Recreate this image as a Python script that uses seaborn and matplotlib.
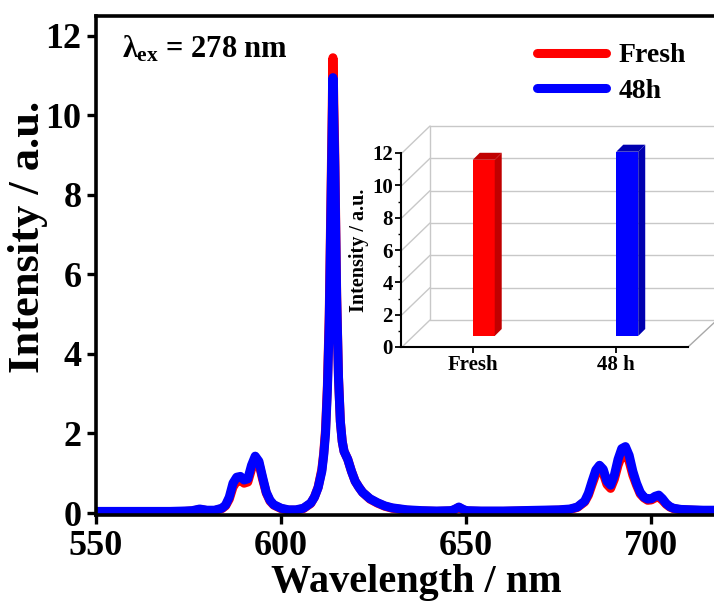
import numpy as np
import pandas as pd
import matplotlib
matplotlib.use("Agg")
import matplotlib.pyplot as plt
import seaborn as sns
from matplotlib.transforms import ScaledTranslation, IdentityTransform
from matplotlib.lines import Line2D
from matplotlib.patches import Polygon

# ---------------- data ----------------
wavelength = [550, 555, 560, 565, 570, 574, 576, 578, 580, 582, 584, 585, 586, 587, 588, 589, 590,
              591, 592, 593, 594, 595, 596, 597, 598, 600, 602, 604, 606, 608, 609, 610, 611, 611.5,
              612, 612.5, 613, 613.5, 614, 614.5, 615, 615.5, 616, 616.5, 617, 618, 619, 620, 621,
              622, 624, 626, 628, 630, 634, 638, 642, 646, 647, 648, 649, 650, 654, 660, 665, 670,
              675, 678, 680, 682, 683, 684, 685, 686, 687, 688, 689, 690, 691, 692, 693, 694, 695,
              696, 697, 698, 699, 700, 701, 702, 703, 704, 705, 706, 708, 711, 714, 718]
fresh = [0.03, 0.03, 0.03, 0.03, 0.03, 0.04, 0.05, 0.09, 0.06, 0.06, 0.11, 0.18, 0.35, 0.65, 0.80, 0.82, 0.75,
         0.78, 1.10, 1.35, 1.25, 0.85, 0.50, 0.30, 0.20, 0.11, 0.07, 0.07, 0.11, 0.24, 0.40, 0.65, 1.10, 1.50,
         2.10, 3.20, 5.00, 8.20, 11.45, 9.00, 5.50, 3.40, 2.30, 1.80, 1.55, 1.35, 1.05, 0.80, 0.65,
         0.52, 0.35, 0.25, 0.17, 0.12, 0.07, 0.05, 0.04, 0.05, 0.09, 0.14, 0.09, 0.05, 0.04, 0.04, 0.05, 0.06,
         0.07, 0.09, 0.14, 0.28, 0.45, 0.72, 0.98, 1.10, 1.00, 0.72, 0.62, 0.85, 1.20, 1.45, 1.50, 1.30, 0.95,
         0.70, 0.48, 0.38, 0.32, 0.33, 0.38, 0.40, 0.32, 0.22, 0.15, 0.11, 0.08, 0.07, 0.06, 0.06]
h48 = [0.04, 0.04, 0.04, 0.04, 0.04, 0.05, 0.06, 0.10, 0.07, 0.07, 0.12, 0.20, 0.40, 0.75, 0.90, 0.92, 0.83,
       0.86, 1.20, 1.43, 1.30, 0.90, 0.52, 0.32, 0.21, 0.12, 0.08, 0.08, 0.12, 0.25, 0.40, 0.64, 1.05, 1.45,
       2.00, 3.10, 4.80, 7.90, 10.95, 8.70, 5.40, 3.40, 2.30, 1.80, 1.55, 1.35, 1.05, 0.80, 0.65,
       0.52, 0.36, 0.26, 0.18, 0.13, 0.08, 0.06, 0.05, 0.06, 0.10, 0.15, 0.10, 0.06, 0.05, 0.05, 0.06, 0.07,
       0.08, 0.10, 0.15, 0.30, 0.50, 0.80, 1.08, 1.20, 1.10, 0.80, 0.70, 0.95, 1.35, 1.62, 1.67, 1.45, 1.05,
       0.75, 0.52, 0.40, 0.35, 0.36, 0.42, 0.45, 0.36, 0.24, 0.16, 0.12, 0.09, 0.08, 0.07, 0.07]
series_names = ["Fresh", "48h"]
series_colors = ["#ff0000", "#0000ff"]
bar_categories = ["Fresh", "48 h"]
bar_values = [10.9, 11.4]
bar_side_colors = ["#c00000", "#0000b0"]
main_xticks = [550, 600, 650, 700]
main_yticks = [0, 2, 4, 6, 8, 10, 12]
inset_yticks = [0, 2, 4, 6, 8, 10, 12]

df = pd.DataFrame({
    "Wavelength": wavelength * 2,
    "Intensity": fresh + h48,
    "Sample": [series_names[0]] * len(wavelength) + [series_names[1]] * len(wavelength),
})

# ---------------- style ----------------
sns.set_theme(style="ticks")
plt.rcParams["font.family"] = ["Liberation Serif", "DejaVu Serif"]
plt.rcParams["font.weight"] = "bold"
plt.rcParams["text.color"] = "black"
plt.rcParams["axes.labelcolor"] = "black"
plt.rcParams["xtick.color"] = "black"
plt.rcParams["ytick.color"] = "black"
plt.rcParams["mathtext.fontset"] = "custom"
plt.rcParams["mathtext.rm"] = "Liberation Serif:bold"
plt.rcParams["mathtext.it"] = "Liberation Serif:bold"
plt.rcParams["mathtext.bf"] = "Liberation Serif:bold"

DPI = 100
W, H = 714, 605
fig = plt.figure(figsize=(W / DPI, H / DPI), dpi=DPI)

def px_box(l, t, r, b):
    return [l / W, (H - b) / H, (r - l) / W, (b - t) / H]

ax = fig.add_axes(px_box(96, 16, 718, 515))
sns.lineplot(data=df, x="Wavelength", y="Intensity", hue="Sample",
             palette=dict(zip(series_names, series_colors)), linewidth=6.5,
             ax=ax, legend=True, sort=False)
ax.set_xlim(550, 718)
ax.set_ylim(-0.05, 12.5)
ax.set_xticks(main_xticks)
ax.set_yticks(main_yticks)
for s in ax.spines.values():
    s.set_linewidth(2.6)
    s.set_color("black")
ax.tick_params(axis="both", direction="out", length=6.5, width=2.4, labelsize=26, pad=4,
               color="black", labelcolor="black")
for lab in ax.get_xticklabels() + ax.get_yticklabels():
    lab.set_fontweight("bold")
ax.set_xlabel("Wavelength / nm", fontsize=29, fontweight="bold", color="black")
ax.xaxis.set_label_coords((416 - 96) / 622, -(564 - 515) / 499)
ax.set_ylabel("Intensity / a.u.", fontsize=32, fontweight="bold", color="black")
ax.yaxis.set_label_coords(-(96 - 48) / 622, (515 - 237) / 499)

leg = ax.legend(loc="upper right", bbox_to_anchor=(700 / W, 1 - 29 / H),
                bbox_transform=fig.transFigure, frameon=False,
                handlelength=2.5, handletextpad=0.45, labelspacing=0.35, borderpad=0,
                prop={"weight": "bold", "size": 20, "family": ["Liberation Serif"]})
for ln in leg.get_lines():
    ln.set_linewidth(6.5)
for t in leg.get_texts():
    t.set_color("black")

fig.text(122 / W, 1 - 57 / H, r"$\lambda_{\rm ex}$ = 278 nm", fontsize=22, fontweight="bold",
         ha="left", va="baseline", color="black")

# ---------------- inset ----------------
axi = fig.add_axes(px_box(401, 153, 688, 347))
axi.set_facecolor("none")
bdf = pd.DataFrame({"Sample": bar_categories, "Value": bar_values})
sns.barplot(data=bdf, x="Sample", y="Value", hue="Sample",
            palette=dict(zip(bar_categories, series_colors)), width=0.153,
            saturation=1, ax=axi, legend=False, edgecolor="none")
axi.set_xlim(-0.5, 1.5)
axi.set_ylim(0, 12)
axi.set_yticks(inset_yticks)
axi.set_yticks([1, 3, 5, 7, 9, 11], minor=True)
for sp in ["top", "right"]:
    axi.spines[sp].set_visible(False)
for sp in ["left", "bottom"]:
    axi.spines[sp].set_linewidth(1.5)
    axi.spines[sp].set_color("black")
axi.tick_params(axis="both", which="major", direction="out", length=4, width=1.3, labelsize=15,
                pad=2, color="black", labelcolor="black")
axi.tick_params(axis="y", which="minor", direction="out", length=2, width=1.0, color="black")
for lab in axi.get_xticklabels() + axi.get_yticklabels():
    lab.set_fontweight("bold")
axi.set_xlabel("")
axi.set_ylabel("Intensity / a.u.", fontsize=14.5, fontweight="bold", labelpad=2, color="black")

# 3D decoration (drawn in pixel space inside the inset axes)
IDT = IdentityTransform()
DX, DY = 29, 27
grid_col = "#c8c8c8"
def add_line(pts, col=grid_col, lw=1.0):
    pts = np.asarray(pts)
    axi.add_line(Line2D(pts[:, 0], pts[:, 1], color=col, lw=lw, transform=IDT,
                        clip_on=False, zorder=0.5))
for v in inset_yticks:
    p0 = axi.transData.transform((-0.5, v))
    p1 = axi.transData.transform((1.5, v))
    add_line([p0 + [DX, DY], p1 + [DX, DY]])
    add_line([p0 + [1, 0], p0 + [DX, DY]])
pA = axi.transData.transform((-0.5, 0))
pB = axi.transData.transform((-0.5, 12))
add_line([pA + [DX, DY], pB + [DX, DY]])
pC = axi.transData.transform((1.5, 0))
add_line([pC, pC + [DX, DY]], col="#a8a8a8")

# shift bars to mid depth and add side/top faces
BOX, BOY = 11, 11
SD = 7
shift = ScaledTranslation(BOX / DPI, BOY / DPI, fig.dpi_scale_trans)
for patch, side_c in zip(axi.patches, bar_side_colors):
    x0, y0 = patch.get_x(), patch.get_y()
    x1, y1 = x0 + patch.get_width(), y0 + patch.get_height()
    patch.set_transform(axi.transData + shift)
    patch.set_clip_on(False)
    patch.set_zorder(2)
    off = np.array([BOX, BOY])
    TL = axi.transData.transform((x0, y1)) + off
    TR = axi.transData.transform((x1, y1)) + off
    BR = axi.transData.transform((x1, y0)) + off
    side = [TR, BR, BR + [SD, SD], TR + [SD, SD]]
    top = [TL, TR, TR + [SD, SD], TL + [SD, SD]]
    for poly in (side, top):
        axi.add_patch(Polygon(np.asarray(poly), closed=True, facecolor=side_c, edgecolor="none",
                              transform=IDT, clip_on=False, zorder=2))

fig.savefig("out.png", dpi=DPI)
